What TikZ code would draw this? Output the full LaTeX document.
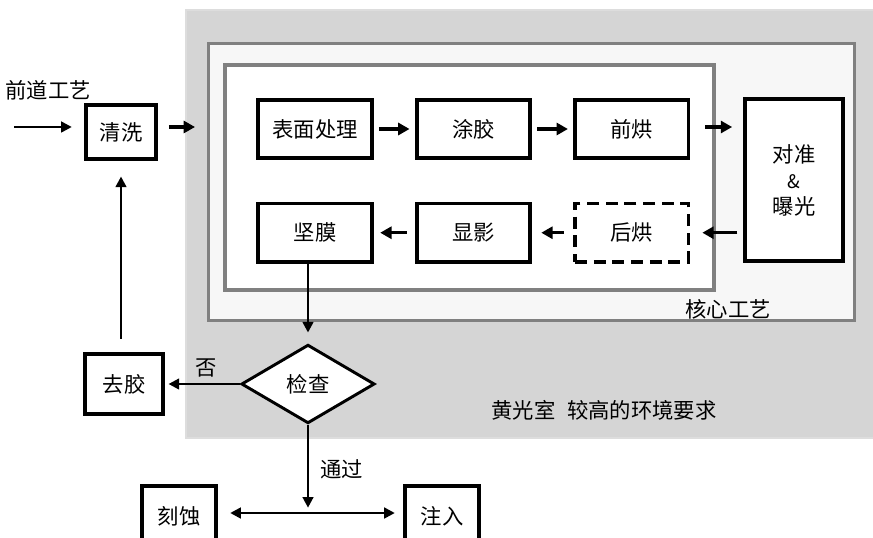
\documentclass[tikz,border=0pt]{standalone}
\usepackage{fontspec}
\setmainfont{Noto Sans CJK SC}
\usetikzlibrary{positioning,arrows.meta,shapes.geometric}
\definecolor{roomgray}{HTML}{D5D5D5}
\definecolor{roomedge}{HTML}{DDDDDD}
\definecolor{framegray}{HTML}{808080}
\definecolor{panelwhite}{HTML}{F7F7F7}

\begin{document}
\begin{tikzpicture}[
    x=0.75pt, y=-0.75pt,
    font=\fontsize{16}{19.5}\selectfont,
    node distance=31pt and 31pt,
    room/.style={draw=roomedge, line width=1pt, fill=roomgray},
    panel/.style={draw=framegray, line width=2.4pt, fill=panelwhite},
    core/.style={draw=framegray, line width=3pt, fill=white},
    proc/.style={draw, line width=2.8pt, align=center, minimum width=85pt, minimum height=44pt, inner sep=2pt, fill=white},
    small/.style={proc, minimum width=53pt, minimum height=40pt},
    check/.style={draw, diamond, line width=2.2pt, minimum width=100pt, minimum height=59pt, inner sep=0pt, fill=white},
    line/.style={-{Triangle[length=8pt,width=8pt]}, line width=1.8pt},
    stub/.style={-{Triangle[length=8.5pt,width=9pt]}, line width=2.4pt},
    both/.style={{Triangle[length=8pt,width=8pt]}-{Triangle[length=8pt,width=8pt]}, line width=1.9pt}
]
\useasboundingbox (0,0) rectangle (873,538);

\draw[room] (186,10) rectangle (885,438);
\draw[panel] (208.5,43.5) rectangle (854.5,320.5);
\draw[core] (225,65) rectangle (714,290);

\node (prev) at (48,90) {前道工艺};
\node (corelabel) at (728,309) {核心工艺};
\node (roomlabel) at (604,410) {黄光室\hspace{0.55em}较高的环境要求};

\node[small] (qingxi) at (121,132) {清洗};
\node[proc] (biaomian) at (315,129) {表面处理};
\node[proc, right=of biaomian] (tujiao) {涂胶};
\node[proc, right=of tujiao] (qianhong) {前烘};
\node[proc, minimum width=74pt, minimum height=121pt] (duizhun) at (794,180) {对准\\{\fontsize{14}{15}\selectfont\&}\\曝光};
\node[proc, below=of biaomian] (jianmo) {坚膜};
\node[proc, below=of tujiao] (xianying) {显影};
\node[proc, below=of qianhong, dash pattern=on 9pt off 5pt] (houhong) {后烘};
\node[check] (jiancha) at (308,384) {检查};
\node[small, minimum width=58pt, minimum height=45pt] (qujiao) at (124,384) {去胶};
\node[small, minimum width=56pt, minimum height=45pt] (kedian) at (179,516) {刻蚀};
\node[small, minimum width=56pt, minimum height=45pt] (zhuru) at (442,516) {注入};

\coordinate (in) at (14,127);
\coordinate (enter) at (195,127);
\coordinate (split) at (308,513);

\draw[line, shorten >=9pt] (in) -- (in -| qingxi.west);
\draw[stub, shorten <=8pt] (qingxi.east |- enter) -- (enter);
\draw[stub, shorten <=4pt, shorten >=4pt] (biaomian) -- (tujiao);
\draw[stub, shorten <=4pt, shorten >=4pt] (tujiao) -- (qianhong);
\draw[stub, shorten <=11pt, shorten >=8pt] (qianhong.east |- enter) -- (duizhun.west |- enter);
\draw[stub, shorten <=4pt, shorten >=9pt] (duizhun.west |- houhong) -- (houhong.east);
\draw[stub, shorten <=7pt, shorten >=7pt] (houhong) -- (xianying);
\draw[stub, shorten <=6pt, shorten >=5pt] (xianying) -- (jianmo);
\draw[line, shorten >=8pt] (jianmo.south -| jiancha) -- (jiancha.north);
\draw[line, shorten >=3pt] (jiancha.west) -- (qujiao.east) node[pos=0.45, above=1pt] (no) {否};
\draw[line, shorten <=10pt, shorten >=12pt] (qujiao.north -| qingxi) -- (qingxi.south);
\draw[line, shorten >=4pt] (jiancha.south) -- (split) node[pos=0.5, right=5pt] (pass) {通过};
\draw[both, shorten <=9pt, shorten >=6pt] (kedian.east |- split) -- (zhuru.west |- split);
\end{tikzpicture}
\end{document}
